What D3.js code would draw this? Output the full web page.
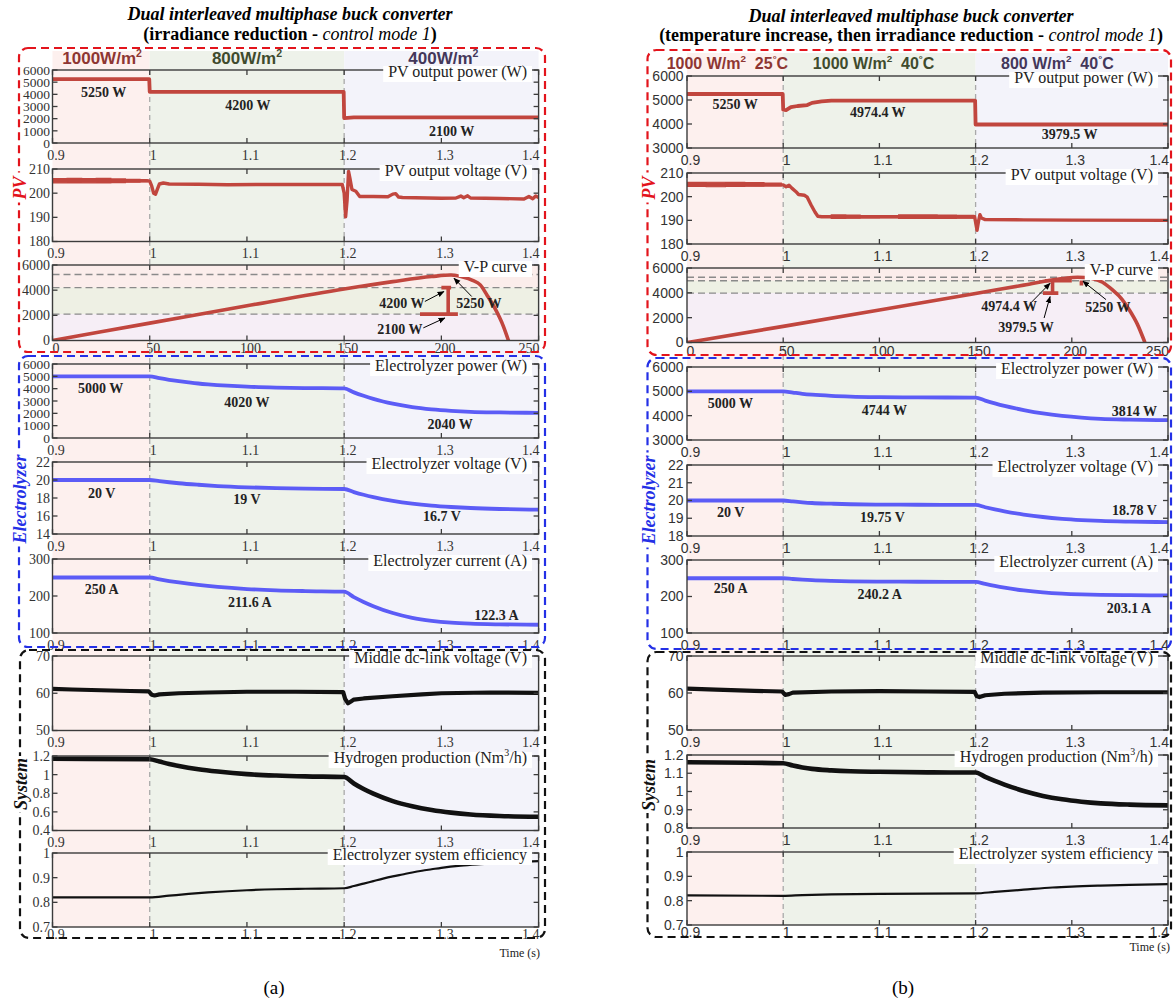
<!DOCTYPE html>
<html>
<head>
<meta charset="utf-8">
<script src="https://cdn.jsdelivr.net/npm/d3@7"></script>
<style>
  body { margin: 0; background: #fff; }
  svg { display: block; }
</style>
</head>
<body>
<svg id="chart" width="1173" height="1002"></svg>
<script>
// ---------------- data ----------------
const timeTicks = [0.9, 1, 1.1, 1.2, 1.3, 1.4];
const stageBreaks = [0.9, 1.0, 1.2, 1.4];
const vpVoltageTicks = [0, 50, 100, 150, 200, 250];

const stageLabelsA = ["1000W/m^2", "800W/m^2", "400W/m^2"];
const stageLabelsB = ["1000 W/m^2\u00a0\u00a025^°C", "1000 W/m^2\u00a0\u00a040^°C", "800 W/m^2\u00a0\u00a040^°C"];

const plotTitles = ["PV output power (W)", "PV output voltage (V)", "V-P curve",
  "Electrolyzer power (W)", "Electrolyzer voltage (V)", "Electrolyzer current (A)",
  "Middle dc-link voltage (V)", "Hydrogen production (Nm^3/h)", "Electrolyzer system efficiency"];

// (a) irradiance reduction
const pvLevelsA = [5250, 4200, 2100];
const pvPowerA = [[0.9,5250],[0.9995,5250],[1.0,4200],[1.1995,4200],[1.2,2050],[1.21,2100],[1.4,2100]];
const pvVoltageA = [[0.9,205.1],[0.95,205.1],[0.996,205.2],[1.0,205.0],[1.002,203.0],[1.004,200.0],[1.006,199.6],
  [1.008,201.8],[1.010,203.8],[1.014,204.2],[1.02,203.8],[1.05,203.7],[1.08,203.5],[1.12,203.6],[1.16,203.6],
  [1.198,203.6],[1.2,200.0],[1.2015,190.2],[1.203,197.0],[1.2045,209.0],[1.206,206.0],[1.208,201.5],[1.212,200.8],
  [1.216,198.6],[1.23,198.6],[1.245,198.5],[1.25,199.6],[1.253,199.8],[1.256,198.4],[1.26,198.2],[1.30,197.9],
  [1.315,198.0],[1.32,198.8],[1.323,198.1],[1.327,198.9],[1.33,198.0],[1.36,197.8],[1.385,197.6],[1.39,198.6],
  [1.394,197.7],[1.397,198.8],[1.4,198.2]];
// switching ripple envelope: [t, low, high]
const pvRippleA = [[0.9,204.3,206.0],[0.915,204.2,206.1],[0.93,204.3,206.0],[0.945,204.2,206.1],[0.96,204.4,205.9],
  [0.975,204.6,205.7],[0.99,204.8,205.5],[0.998,204.9,205.3]];
const vpCurveA = [[0,0],[50,1380],[100,2760],[150,4100],[175,4680],[195,5080],[205,5200],[211,5040],[216,4780],
  [220,4420],[223.5,3600],[227,2710],[231.9,1130],[234.5,0]];
const vpMarksA = [[[189,2100],[208.5,2100]], [[203.5,2100],[203.5,4200]], [[200,4200],[205,4200]]];
const elecPowerLevelsA = [5000, 4020, 2040];
const elecPowerA = [[0.9,5000],[1.0,5000],[1.01,4850],[1.02,4720],[1.03,4610],[1.04,4510],[1.05,4420],[1.06,4350],
  [1.08,4240],[1.1,4160],[1.13,4090],[1.16,4050],[1.2,4020],[1.21,3700],[1.22,3420],[1.23,3170],[1.24,2960],
  [1.25,2780],[1.27,2500],[1.29,2320],[1.31,2200],[1.33,2120],[1.36,2070],[1.4,2040]];
const elecVoltLevelsA = [20, 19, 16.7];
const elecVoltA = [[0.9,20],[1.0,20],[1.01,19.87],[1.02,19.75],[1.03,19.64],[1.05,19.47],[1.07,19.33],[1.1,19.19],
  [1.13,19.1],[1.16,19.04],[1.2,19.0],[1.21,18.66],[1.22,18.36],[1.23,18.1],[1.25,17.68],[1.27,17.37],[1.29,17.15],
  [1.31,17.0],[1.33,16.89],[1.36,16.78],[1.4,16.7]];
const elecCurrLevelsA = [250, 211.6, 122.3];
const elecCurrA = [[0.9,250],[1.0,250],[1.01,245],[1.02,240.5],[1.03,236.5],[1.05,229.8],[1.07,224.5],[1.1,218.8],
  [1.13,215.3],[1.16,213.3],[1.2,211.6],[1.21,197],[1.22,184],[1.23,172.5],[1.25,154],[1.27,141],[1.29,133],
  [1.31,128],[1.33,125.2],[1.36,123.3],[1.4,122.3]];
const dcLinkA = [[0.9,61.2],[0.92,61.0],[0.95,60.8],[0.98,60.6],[0.999,60.5],[1.002,59.6],[1.005,59.4],[1.01,59.7],
  [1.03,60.0],[1.06,60.2],[1.1,60.4],[1.15,60.4],[1.199,60.3],[1.201,58.5],[1.204,57.3],[1.207,57.8],[1.21,58.3],
  [1.22,58.6],[1.25,59.2],[1.28,59.7],[1.3,60.0],[1.35,60.2],[1.4,60.1]];
const hydrogenA = [[0.9,1.17],[1.0,1.165],[1.01,1.14],[1.02,1.115],[1.03,1.093],[1.05,1.058],[1.07,1.033],[1.1,1.005],
  [1.13,0.99],[1.16,0.981],[1.2,0.975],[1.21,0.905],[1.22,0.845],[1.23,0.795],[1.25,0.715],[1.27,0.66],[1.29,0.62],
  [1.31,0.592],[1.33,0.572],[1.36,0.556],[1.4,0.548]];
const efficiencyA = [[0.9,0.82],[1.0,0.82],[1.02,0.827],[1.04,0.834],[1.06,0.84],[1.08,0.845],[1.1,0.849],[1.13,0.853],
  [1.16,0.855],[1.2,0.857],[1.21,0.866],[1.22,0.876],[1.23,0.886],[1.24,0.896],[1.25,0.905],[1.26,0.913],[1.27,0.921],
  [1.28,0.928],[1.29,0.934],[1.3,0.94],[1.32,0.949],[1.34,0.955],[1.36,0.96],[1.38,0.964],[1.4,0.967]];

// (b) temperature increase, then irradiance reduction
const pvLevelsB = [5250, 4974.4, 3979.5];
const pvPowerB = [[0.9,5250],[0.9995,5250],[1.0,4600],[1.003,4580],[1.008,4700],[1.015,4750],[1.025,4790],[1.03,4880],
  [1.04,4940],[1.05,4974.4],[1.1995,4974.4],[1.2,3979.5],[1.4,3979.5]];
const pvVoltageB = [[0.9,205.1],[0.95,205.1],[1.0,205.0],[1.003,204.2],[1.006,204.8],[1.009,203.6],[1.013,202.2],
  [1.016,200.9],[1.022,200.6],[1.025,199.8],[1.029,196.5],[1.033,193.5],[1.036,191.7],[1.04,191.5],[1.1,191.5],
  [1.199,191.5],[1.2005,188.0],[1.2015,185.8],[1.203,189.5],[1.2045,192.4],[1.206,191.0],[1.21,190.3],[1.25,190.2],
  [1.3,190.1],[1.4,190.0]];
const pvRippleB = [[0.9,204.3,206.0],[0.92,204.2,206.1],[0.94,204.3,206.0],[0.96,204.4,205.9],[0.98,204.6,205.7],
  [0.998,204.8,205.4],[1.036,191.4,192.0],[1.05,190.8,192.3],[1.065,190.9,192.2],[1.08,191.0,192.0],[1.1,191.1,191.9],
  [1.12,190.8,192.3],[1.14,190.8,192.3],[1.16,190.8,192.2],[1.18,190.9,192.1],[1.198,191.1,191.9]];
const vpCurveB = [[0,0],[50,1300],[100,2620],[150,3950],[175,4620],[195,5150],[203,5260],[210,5180],[216,4850],
  [221,4250],[226,3500],[230,2600],[234,1500],[238,0]];
const vpMarksB = [[[185,3979.5],[193,3979.5]], [[190,3979.5],[190,4974.4]], [[186,4974.4],[200,4974.4]], [[205,4600],[205,5000]]];
const elecPowerLevelsB = [5000, 4744, 3814];
const elecPowerB = [[0.9,5000],[1.0,5000],[1.01,4950],[1.02,4900],[1.03,4863],[1.05,4815],[1.07,4785],[1.1,4762],
  [1.14,4750],[1.2,4744],[1.21,4620],[1.22,4505],[1.23,4400],[1.25,4230],[1.27,4090],[1.29,3990],[1.31,3920],
  [1.33,3872],[1.36,3838],[1.4,3814]];
const elecVoltLevelsB = [20, 19.75, 18.78];
const elecVoltB = [[0.9,20],[1.0,20],[1.01,19.95],[1.02,19.9],[1.03,19.86],[1.05,19.82],[1.07,19.79],[1.1,19.77],
  [1.14,19.76],[1.2,19.75],[1.21,19.62],[1.22,19.5],[1.23,19.39],[1.25,19.21],[1.27,19.07],[1.29,18.97],[1.31,18.9],
  [1.33,18.85],[1.36,18.81],[1.4,18.78]];
const elecCurrLevelsB = [250, 240.2, 203.1];
const elecCurrB = [[0.9,250],[1.0,250],[1.01,248],[1.02,246.2],[1.03,244.7],[1.05,242.8],[1.07,241.6],[1.1,240.8],
  [1.14,240.4],[1.2,240.2],[1.21,234.3],[1.22,228.8],[1.23,224],[1.25,216.6],[1.27,211.4],[1.29,208],[1.31,205.9],
  [1.33,204.6],[1.36,203.7],[1.4,203.1]];
const dcLinkB = [[0.9,61.2],[0.93,60.9],[0.97,60.6],[0.999,60.4],[1.002,59.5],[1.006,59.7],[1.01,60.1],[1.05,60.4],
  [1.1,60.5],[1.15,60.4],[1.199,60.3],[1.201,59.2],[1.204,58.9],[1.21,59.4],[1.23,59.8],[1.27,60.1],[1.33,60.2],[1.4,60.2]];
const hydrogenB = [[0.9,1.16],[1.0,1.155],[1.01,1.142],[1.02,1.132],[1.03,1.124],[1.05,1.116],[1.07,1.111],[1.1,1.108],
  [1.15,1.105],[1.2,1.104],[1.21,1.08],[1.22,1.058],[1.23,1.038],[1.25,1.003],[1.27,0.976],[1.29,0.957],[1.31,0.944],
  [1.33,0.935],[1.36,0.928],[1.4,0.924]];
const efficiencyB = [[0.9,0.822],[1.0,0.82],[1.02,0.823],[1.05,0.826],[1.1,0.828],[1.2,0.83],[1.22,0.836],[1.25,0.845],
  [1.28,0.854],[1.3,0.858],[1.33,0.862],[1.36,0.865],[1.4,0.868]];

// ---------------- styles ----------------
const RED = "#c1463e", BLUE = "#5c5cf6", INK = "#111";
const SERIF = "'Liberation Serif', 'Times New Roman', serif";
const SANS = "'Liberation Sans', Arial, sans-serif";
const stageFill = ["#fdf0ee", "#eef2ea", "#f3f3fa"];
const stageInk = ["#8e3632", "#3f4b2d", "#43375a"];
const vpBandFill = ["#fbedeb", "#eef0e4", "#f6eef6"];

const svg = d3.select("#chart");
const defs = svg.append("defs");
defs.append("marker").attr("id", "arrowHead").attr("viewBox", "0 0 10 10")
  .attr("refX", 9).attr("refY", 5).attr("markerWidth", 7).attr("markerHeight", 7)
  .attr("orient", "auto-start-reverse")
  .append("path").attr("d", "M0,1 L10,5 L0,9 Z").attr("fill", "#000");

// text with "^x" marking a raised character
function richText(sel, str, size) {
  let raised = false;
  str.split(/(\^.)/).filter(s => s.length).forEach(p => {
    if (p[0] === "^") {
      sel.append("tspan").attr("font-size", size * 0.62).attr("dy", -size * 0.42).text(p[1]);
      raised = true;
    } else {
      const t = sel.append("tspan").text(p);
      if (raised) { t.attr("dy", size * 0.42); raised = false; }
    }
  });
  return sel;
}

let clipId = 0;

function drawPlot(g, P, spec, top, h, isLast) {
  const bottom = top + h;
  const x = d3.scaleLinear().domain(spec.vp ? [0, 250] : [0.9, 1.4]).range([P.x0, P.x1]);
  const y = d3.scaleLinear().domain(spec.y).range([bottom, top]);
  const cid = "clip" + (clipId++);
  defs.append("clipPath").attr("id", cid).append("rect")
    .attr("x", P.x0).attr("y", top).attr("width", P.x1 - P.x0).attr("height", h);
  const inner = g.append("g").attr("clip-path", `url(#${cid})`);

  if (spec.vp) {
    const lv = spec.levels;
    const bands = [[lv[1], spec.y[1]], [lv[2], lv[1]], [spec.y[0], lv[2]]];
    inner.selectAll("rect.band").data(bands).join("rect")
      .attr("x", P.x0).attr("width", P.x1 - P.x0)
      .attr("y", d => y(d[1])).attr("height", d => y(d[0]) - y(d[1]))
      .attr("fill", (d, i) => vpBandFill[i]);
    inner.selectAll("line.level").data(lv).join("line")
      .attr("x1", P.x0).attr("x2", P.x1).attr("y1", d => y(d)).attr("y2", d => y(d))
      .attr("stroke", "#8a8a8a").attr("stroke-width", 1.4).attr("stroke-dasharray", "7,4");
    inner.append("path").datum(spec.data)
      .attr("d", d3.line().x(d => x(d[0])).y(d => y(d[1])).curve(d3.curveMonotoneX))
      .attr("fill", "none").attr("stroke", RED).attr("stroke-width", 3.6);
    inner.selectAll("path.mark").data(spec.marks).join("path")
      .attr("d", d3.line().x(d => x(d[0])).y(d => y(d[1])))
      .attr("fill", "none").attr("stroke", RED).attr("stroke-width", 3.6);
  } else {
    if (spec.ripple) {
      // ripple band split where the time gap shows a break
      const runs = [];
      spec.ripple.forEach((d, i) => {
        if (i === 0 || d[0] - spec.ripple[i - 1][0] > 0.03) runs.push([]);
        runs[runs.length - 1].push(d);
      });
      runs.forEach(r => {
        inner.append("path").datum(r)
          .attr("d", d3.area().x(d => x(d[0])).y0(d => y(d[1])).y1(d => y(d[2])).curve(d3.curveStepAfter))
          .attr("fill", spec.color).attr("stroke", spec.color).attr("stroke-width", 1.2);
      });
    }
    inner.append("path").datum(spec.data)
      .attr("d", d3.line().x(d => x(d[0])).y(d => y(d[1])).curve(spec.smooth ? d3.curveMonotoneX : d3.curveLinear))
      .attr("fill", "none").attr("stroke", spec.color).attr("stroke-width", spec.w)
      .attr("stroke-linejoin", "round");
  }

  // value notes
  if (spec.notes) {
    spec.notes.forEach((txt, i) => {
      const at = spec.noteAt[i];
      g.append("text").attr("x", x(at[0])).attr("y", y(at[1])).attr("dy", "0.35em")
        .attr("text-anchor", "middle").attr("font-family", SERIF).attr("font-weight", "bold")
        .attr("font-size", 14).attr("fill", "#222").text(txt);
    });
  }
  if (spec.arrows) {
    spec.arrows.forEach(a => {
      g.append("line").attr("x1", x(a[0])).attr("y1", y(a[1])).attr("x2", x(a[2])).attr("y2", y(a[3]))
        .attr("stroke", "#000").attr("stroke-width", 1).attr("marker-end", "url(#arrowHead)");
    });
  }

  // frame and inward ticks
  const axisInk = "#3c3c3c";
  g.append("rect").attr("x", P.x0).attr("y", top).attr("width", P.x1 - P.x0).attr("height", h)
    .attr("fill", "none").attr("stroke", axisInk).attr("stroke-width", 1.4);
  const xt = spec.vp ? vpVoltageTicks : timeTicks;
  const tk = 5;
  xt.forEach(v => {
    g.append("line").attr("x1", x(v)).attr("x2", x(v)).attr("y1", top).attr("y2", top + tk).attr("stroke", axisInk).attr("stroke-width", 1.3);
    g.append("line").attr("x1", x(v)).attr("x2", x(v)).attr("y1", bottom).attr("y2", bottom - tk).attr("stroke", axisInk).attr("stroke-width", 1.3);
  });
  spec.yt.forEach(v => {
    g.append("line").attr("x1", P.x0).attr("x2", P.x0 + tk).attr("y1", y(v)).attr("y2", y(v)).attr("stroke", axisInk).attr("stroke-width", 1.3);
    g.append("line").attr("x1", P.x1).attr("x2", P.x1 - tk).attr("y1", y(v)).attr("y2", y(v)).attr("stroke", axisInk).attr("stroke-width", 1.3);
  });

  // tick labels
  const xdy = spec.vp ? P.vpLabelDy : (isLast ? P.lastLabelDy : P.xLabelDy);
  xt.forEach((v, i) => {
    const last = i === xt.length - 1;
    g.append("text").attr("x", last ? P.x1 + 1 : x(v) + 3.5).attr("y", bottom + xdy)
      .attr("text-anchor", last ? "end" : "middle")
      .attr("font-family", P.tickFont).attr("font-size", P.tickSize).attr("fill", "#333").text(v);
  });
  spec.yt.forEach(v => {
    g.append("text").attr("x", P.x0 - P.yLabelGap).attr("y", y(v)).attr("dy", "0.35em")
      .attr("text-anchor", "end").attr("font-family", P.tickFont).attr("font-size", spec.ytSize || P.tickSize)
      .attr("fill", "#333").text(v);
  });

  // plot name on the top edge
  const tg = g.append("g");
  const t = tg.append("text").attr("x", P.titleEnd).attr("y", top + P.titleDy).attr("text-anchor", "end")
    .attr("font-family", SERIF).attr("font-size", 16).attr("fill", "#222");
  richText(t, spec.title, 16);
  const bb = t.node().getBBox();
  tg.insert("rect", "text").attr("x", bb.x - 5).attr("y", top - 4).attr("width", bb.width + 10)
    .attr("height", 16).attr("fill", "#fff");
}

function drawPanel(P) {
  const g = svg.append("g");
  const xt = d3.scaleLinear().domain([0.9, 1.4]).range([P.x0, P.x1]);
  const n = P.tops.length;
  const lastBottom = P.tops[n - 1] + P.hs[n - 1];

  // stage shading behind every time plot
  d3.pairs(stageBreaks).forEach((b, i) => {
    g.append("rect").attr("x", xt(b[0])).attr("width", xt(b[1]) - xt(b[0]))
      .attr("y", P.shadeTop).attr("height", lastBottom - P.shadeTop).attr("fill", stageFill[i]);
  });
  // stage boundaries
  [1.0, 1.2].forEach(t => {
    g.append("line").attr("x1", xt(t)).attr("x2", xt(t)).attr("y1", P.tops[0]).attr("y2", lastBottom)
      .attr("stroke", "#a9a9a9").attr("stroke-width", 1.3).attr("stroke-dasharray", "5,4");
  });
  // stage names
  P.stageLabels.forEach((s, i) => {
    const t = g.append("text").attr("x", xt(P.stageLabelAt[i])).attr("y", P.stageLabelY)
      .attr("text-anchor", "middle").attr("font-family", SANS).attr("font-weight", "bold")
      .attr("font-size", P.stageSize).attr("fill", stageInk[i]);
    richText(t, s, P.stageSize);
  });

  P.plots.forEach((spec, i) => drawPlot(g, P, spec, P.tops[i], P.hs[i], i === n - 1));

  // group frames
  P.boxes.forEach(b => {
    g.append("rect").attr("x", b.x).attr("y", b.y).attr("width", b.w).attr("height", b.h)
      .attr("rx", 9).attr("ry", 9).attr("fill", "none").attr("stroke", b.color)
      .attr("stroke-width", 2.2).attr("stroke-dasharray", "8,5");
    const lg = g.append("g").attr("transform", `translate(${b.x + 1},${b.labelY}) rotate(-90)`);
    const lt = lg.append("text").attr("text-anchor", "middle").attr("dy", "0.35em")
      .attr("font-family", SERIF).attr("font-weight", "bold").attr("font-style", "italic")
      .attr("font-size", 18).attr("fill", b.color).text(b.label);
    const bb = lt.node().getBBox();
    lg.insert("rect", "text").attr("x", bb.x - 2).attr("y", -6).attr("width", bb.width + 4)
      .attr("height", 12).attr("fill", "#fff");
  });

  // headings
  g.append("text").attr("x", P.titleX).attr("y", P.titleY1).attr("text-anchor", "middle")
    .attr("font-family", SERIF).attr("font-weight", "bold").attr("font-style", "italic")
    .attr("font-size", 18).attr("fill", "#000").text("Dual interleaved multiphase buck converter");
  const h2 = g.append("text").attr("x", P.titleX).attr("y", P.titleY2).attr("text-anchor", "middle")
    .attr("font-family", SERIF).attr("font-size", 18).attr("fill", "#000");
  h2.append("tspan").attr("font-weight", "bold").text(P.subtitle);
  h2.append("tspan").attr("font-style", "italic").text("control mode 1");
  h2.append("tspan").attr("font-weight", "bold").text(")");

  g.append("text").attr("x", P.timeX).attr("y", P.timeY).attr("text-anchor", "end")
    .attr("font-family", SERIF).attr("font-size", 12).attr("fill", "#222").text("Time (s)");
  g.append("text").attr("x", P.captionX).attr("y", 994).attr("text-anchor", "middle")
    .attr("font-family", SERIF).attr("font-size", 19).attr("fill", "#000").text(P.caption);
}

const fmtW = v => `${v} W`, fmtV = v => `${v} V`, fmtA = v => `${v} A`;

function plotSpecs(S) {
  return [
    { title: plotTitles[0], y: S.pvY, yt: S.pvYt, ytSize: S.pvYtSize, data: S.pvPower, color: RED, w: 3.8,
      notes: S.pvLevels.map(fmtW), noteAt: S.pvNoteAt },
    { title: plotTitles[1], y: [180, 210], yt: [180, 190, 200, 210], data: S.pvVoltage, ripple: S.pvRipple, color: RED, w: 3.4 },
    { title: plotTitles[2], vp: true, y: [0, 6000], yt: [0, 2000, 4000, 6000], data: S.vpCurve, marks: S.vpMarks,
      levels: S.pvLevels, notes: S.vpNotes.map(i => fmtW(S.pvLevels[i])), noteAt: S.vpNoteAt, arrows: S.vpArrows },
    { title: plotTitles[3], y: S.epY, yt: S.epYt, ytSize: S.epYtSize, data: S.elecPower, color: BLUE, w: 3.8, smooth: true,
      notes: S.epLevels.map(fmtW), noteAt: S.epNoteAt },
    { title: plotTitles[4], y: S.evY, yt: S.evYt, data: S.elecVolt, color: BLUE, w: 3.8, smooth: true,
      notes: S.evLevels.map(fmtV), noteAt: S.evNoteAt },
    { title: plotTitles[5], y: [100, 300], yt: [100, 200, 300], data: S.elecCurr, color: BLUE, w: 3.8, smooth: true,
      notes: S.ecLevels.map(fmtA), noteAt: S.ecNoteAt },
    { title: plotTitles[6], y: [50, 70], yt: [50, 60, 70], data: S.dcLink, color: INK, w: 4.2 },
    { title: plotTitles[7], y: S.h2Y, yt: S.h2Yt, data: S.hydrogen, color: INK, w: 4.6, smooth: true },
    { title: plotTitles[8], y: [0.7, 1], yt: [0.7, 0.8, 0.9, 1], data: S.efficiency, color: INK, w: 2.2, smooth: true }
  ];
}

const panelA = {
  x0: 52.5, x1: 538.6,
  tops: [70, 169, 265, 364, 462, 559, 656, 756, 853],
  hs:   [73, 72.5, 75.5, 74, 72, 74, 74.5, 74.5, 74],
  tickFont: SERIF, tickSize: 14, xLabelDy: 16.5, lastLabelDy: 11.5, vpLabelDy: 12, yLabelGap: 2.5, titleEnd: 527, titleDy: 7,
  shadeTop: 51, stageLabels: stageLabelsA, stageLabelAt: [0.951, 1.1, 1.302], stageLabelY: 64, stageSize: 17,
  titleX: 290, titleY1: 20, titleY2: 40, subtitle: "(irradiance reduction - ",
  timeX: 540, timeY: 957, captionX: 274, caption: "(a)",
  boxes: [
    { x: 19, y: 48, w: 526, h: 304, color: "#e3141c", label: "PV", labelY: 188 },
    { x: 19, y: 356, w: 526, h: 291, color: "#2430e6", label: "Electrolyzer", labelY: 499 },
    { x: 20, y: 650, w: 525, h: 288, color: "#111", label: "System", labelY: 784 }
  ],
  plots: plotSpecs({
    pvY: [0, 6000], pvYt: [0, 1000, 2000, 3000, 4000, 5000, 6000], pvYtSize: 13.5, pvPower: pvPowerA, pvLevels: pvLevelsA,
    pvNoteAt: [[0.9525, 4190], [1.101, 3080], [1.3105, 970]],
    pvVoltage: pvVoltageA, pvRipple: pvRippleA, vpCurve: vpCurveA, vpMarks: vpMarksA,
    vpNotes: [1, 0, 2], vpNoteAt: [[179.7, 2976], [219.3, 2976], [178.7, 868]],
    vpArrows: [[191.5, 3103, 201.3, 3892], [215.6, 3497, 206.5, 4950], [190.7, 1003, 201.8, 1792]],
    epY: [0, 6000], epYt: [0, 1000, 2000, 3000, 4000, 5000, 6000], epYtSize: 13.5, elecPower: elecPowerA, epLevels: elecPowerLevelsA,
    epNoteAt: [[0.9496, 4030], [1.1, 2943], [1.309, 1135]],
    evY: [14, 22], evYt: [14, 16, 18, 20, 22], elecVolt: elecVoltA, evLevels: elecVoltLevelsA,
    evNoteAt: [[0.9507, 18.54], [1.1, 17.9], [1.3006, 15.98]],
    elecCurr: elecCurrA, ecLevels: elecCurrLevelsA, ecNoteAt: [[0.9507, 218], [1.103, 183], [1.3567, 148]],
    dcLink: dcLinkA, h2Y: [0.4, 1.2], h2Yt: [0.4, 0.6, 0.8, 1, 1.2], hydrogen: hydrogenA, efficiency: efficiencyA
  })
};

const panelB = {
  x0: 687, x1: 1168,
  tops: [76, 173, 268, 367, 465, 560, 656, 755, 852],
  hs:   [72, 71, 74.5, 73, 71, 73, 74, 73, 73],
  tickFont: SANS, tickSize: 14, xLabelDy: 17, lastLabelDy: 11.5, vpLabelDy: 13, yLabelGap: 3.5, titleEnd: 1153, titleDy: 7,
  shadeTop: 53, stageLabels: stageLabelsB, stageLabelAt: [0.942, 1.094, 1.285], stageLabelY: 68.5, stageSize: 16,
  titleX: 911, titleY1: 22, titleY2: 41, subtitle: "(temperature increase, then irradiance reduction - ",
  timeX: 1170, timeY: 951, captionX: 903, caption: "(b)",
  boxes: [
    { x: 647.5, y: 50, w: 523.5, h: 305, color: "#e3141c", label: "PV", labelY: 188 },
    { x: 647.5, y: 358, w: 523.5, h: 291, color: "#2430e6", label: "Electrolyzer", labelY: 500 },
    { x: 647.5, y: 652, w: 523.5, h: 285, color: "#111", label: "System", labelY: 785 }
  ],
  plots: plotSpecs({
    pvY: [3000, 6000], pvYt: [3000, 4000, 5000, 6000], pvPower: pvPowerB, pvLevels: pvLevelsB,
    pvNoteAt: [[0.9501, 4849], [1.0983, 4508], [1.2978, 3588]],
    pvVoltage: pvVoltageB, pvRipple: pvRippleB, vpCurve: vpCurveB, vpMarks: vpMarksB,
    vpNotes: [1, 2, 0], vpNoteAt: [[167.4, 2959], [176.2, 1233], [218.8, 2877]],
    vpArrows: [[178.8, 3205, 188.7, 4767], [185.6, 1973, 188.7, 3699], [217.8, 3452, 205.8, 4932]],
    epY: [3000, 6000], epYt: [3000, 4000, 5000, 6000], elecPower: elecPowerB, epLevels: elecPowerLevelsB,
    epNoteAt: [[0.9452, 4508], [1.1052, 4233], [1.365, 4192]],
    evY: [18, 22], evYt: [18, 19, 20, 21, 22], elecVolt: elecVoltB, evLevels: elecVoltLevelsB,
    evNoteAt: [[0.9455, 19.32], [1.1032, 19.06], [1.365, 19.46]],
    elecCurr: elecCurrB, ecLevels: elecCurrLevelsB, ecNoteAt: [[0.9455, 222], [1.1002, 206], [1.3594, 168]],
    dcLink: dcLinkB, h2Y: [0.8, 1.2], h2Yt: [0.8, 0.9, 1, 1.1, 1.2], hydrogen: hydrogenB, efficiency: efficiencyB
  })
};

drawPanel(panelA);
drawPanel(panelB);
</script>
</body>
</html>
